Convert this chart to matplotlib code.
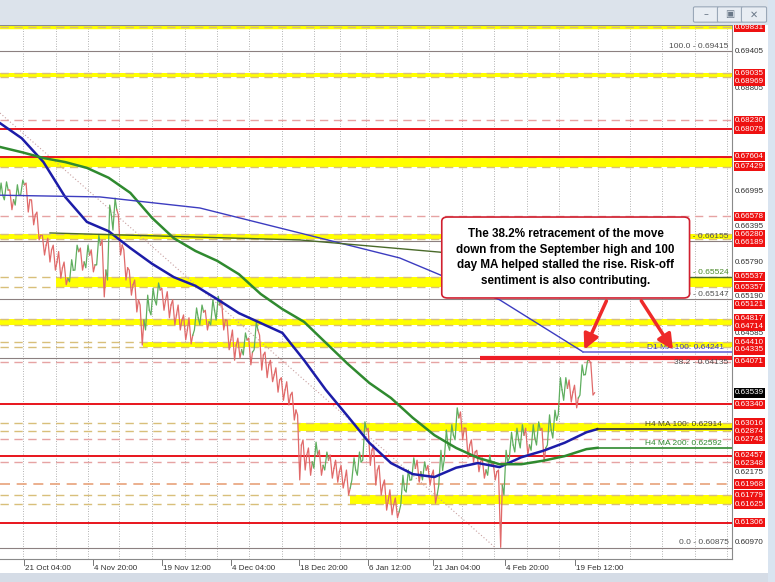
import numpy as np
import matplotlib.pyplot as plt
from matplotlib.patches import Rectangle, FancyBboxPatch
from matplotlib.transforms import blended_transform_factory

plt.rcParams['font.family'] = ['Liberation Sans', 'DejaVu Sans']

# AUDUSD 4h price, one sample every 5 bars
closes = [0.6694, 0.6703, 0.6686, 0.6694, 0.6712, 0.6686, 0.6660, 0.6625, 0.6608, 0.6600,
          0.6579, 0.6569, 0.6551, 0.6565, 0.6597, 0.6579, 0.6591, 0.6574, 0.6608, 0.6565,
          0.6660, 0.6669, 0.6608, 0.6569, 0.6540, 0.6514, 0.6479, 0.6496, 0.6514, 0.6531,
          0.6514, 0.6505, 0.6488, 0.6479, 0.6462, 0.6453, 0.6483, 0.6493, 0.6476, 0.6496,
          0.6505, 0.6479, 0.6445, 0.6436, 0.6428, 0.6445, 0.6424, 0.6462, 0.6419, 0.6402,
          0.6385, 0.6376, 0.6359, 0.6350, 0.6324, 0.6264, 0.6247, 0.6235, 0.6247, 0.6229,
          0.6238, 0.6224, 0.6218, 0.6204, 0.6190, 0.6221, 0.6235, 0.6290, 0.6255, 0.6221,
          0.6195, 0.6169, 0.6161, 0.6149, 0.6187, 0.6204, 0.6224, 0.6218, 0.6221, 0.6212,
          0.6178, 0.6221, 0.6264, 0.6281, 0.6311, 0.6293, 0.6264, 0.6252, 0.6235, 0.6221,
          0.6229, 0.6218, 0.6195, 0.6235, 0.6264, 0.6273, 0.6281, 0.6264, 0.6276, 0.6290,
          0.6259, 0.6290, 0.6307, 0.6359, 0.6362, 0.6355, 0.6345, 0.6385, 0.6410, 0.6354]
highs = [0.6715, 0.6717, 0.6703, 0.6712, 0.6720, 0.6715, 0.6686, 0.6665, 0.6625, 0.6620,
         0.6608, 0.6597, 0.6579, 0.6583, 0.6608, 0.6603, 0.6608, 0.6600, 0.6625, 0.6617,
         0.6677, 0.6689, 0.6660, 0.6600, 0.6565, 0.6548, 0.6505, 0.6522, 0.6534, 0.6543,
         0.6534, 0.6528, 0.6514, 0.6505, 0.6488, 0.6483, 0.6500, 0.6505, 0.6496, 0.6514,
         0.6520, 0.6514, 0.6479, 0.6462, 0.6448, 0.6457, 0.6448, 0.6476, 0.6453, 0.6424,
         0.6410, 0.6397, 0.6380, 0.6373, 0.6355, 0.6316, 0.6273, 0.6259, 0.6269, 0.6255,
         0.6252, 0.6247, 0.6238, 0.6229, 0.6221, 0.6242, 0.6252, 0.6304, 0.6293, 0.6264,
         0.6229, 0.6204, 0.6187, 0.6173, 0.6212, 0.6221, 0.6242, 0.6238, 0.6235, 0.6229,
         0.6221, 0.6255, 0.6290, 0.6299, 0.6328, 0.6321, 0.6293, 0.6273, 0.6255, 0.6242,
         0.6247, 0.6235, 0.6221, 0.6255, 0.6286, 0.6293, 0.6299, 0.6293, 0.6299, 0.6304,
         0.6293, 0.6316, 0.6324, 0.6380, 0.6380, 0.6376, 0.6367, 0.6402, 0.6409, 0.6405]
lows = [0.6686, 0.6686, 0.6669, 0.6677, 0.6694, 0.6665, 0.6643, 0.6617, 0.6591, 0.6579,
        0.6565, 0.6551, 0.6540, 0.6545, 0.6565, 0.6565, 0.6569, 0.6562, 0.6574, 0.6519,
        0.6548, 0.6634, 0.6591, 0.6548, 0.6522, 0.6493, 0.6436, 0.6462, 0.6488, 0.6505,
        0.6496, 0.6483, 0.6471, 0.6462, 0.6445, 0.6438, 0.6462, 0.6471, 0.6462, 0.6471,
        0.6479, 0.6462, 0.6428, 0.6410, 0.6414, 0.6419, 0.6402, 0.6428, 0.6393, 0.6380,
        0.6373, 0.6355, 0.6341, 0.6333, 0.6307, 0.6204, 0.6221, 0.6212, 0.6224, 0.6212,
        0.6221, 0.6207, 0.6200, 0.6190, 0.6178, 0.6204, 0.6212, 0.6238, 0.6229, 0.6195,
        0.6178, 0.6152, 0.6144, 0.6139, 0.6161, 0.6183, 0.6204, 0.6200, 0.6204, 0.6195,
        0.6164, 0.6195, 0.6238, 0.6255, 0.6273, 0.6273, 0.6242, 0.6235, 0.6218, 0.6207,
        0.6212, 0.6204, 0.6088, 0.6178, 0.6242, 0.6252, 0.6259, 0.6247, 0.6255, 0.6264,
        0.6235, 0.6264, 0.6276, 0.6316, 0.6341, 0.6338, 0.6328, 0.6350, 0.6385, 0.6350]
bar_step = 5

# H4 moving averages, one value every 20 bars
h4_ma100 = [0.6818, 0.6792, 0.6751, 0.6691, 0.6648, 0.6632, 0.6603, 0.6576, 0.6553, 0.6538,
            0.6515, 0.6491, 0.6474, 0.6457, 0.6410, 0.6359, 0.6314, 0.6268, 0.6233, 0.6214,
            0.6209, 0.6225, 0.6233, 0.6226, 0.6243, 0.6254, 0.6268, 0.6286]
h4_ma200 = [0.6777, 0.6768, 0.6758, 0.6751, 0.6741, 0.6724, 0.6698, 0.6655, 0.6620, 0.6598,
            0.6581, 0.6558, 0.6524, 0.6498, 0.6476, 0.6440, 0.6404, 0.6371, 0.6345, 0.6311,
            0.6281, 0.6259, 0.6242, 0.6231, 0.6231, 0.6237, 0.6245, 0.6257]
ma_step = 20
h4_ma100_now = 0.62914
h4_ma200_now = 0.62592

# daily moving averages (bar, value)
d1_ma100_bars = [0, 92, 184, 276, 368, 460, 537]
d1_ma100 = [0.6694, 0.6691, 0.6672, 0.6629, 0.6586, 0.6514, 0.64241]
d1_ma200_bars = [46, 276, 405, 552]
d1_ma200 = [0.6629, 0.6617, 0.6596, 0.65524]

# horizontal levels
red_levels = [0.68079, 0.67604, 0.63340, 0.62457, 0.61306]
dash_levels = [0.68230, 0.66578, 0.64071, 0.62743, 0.62348]
orange_levels = [0.61968]
band_tops = [0.69035, 0.67604, 0.66280, 0.65537, 0.64817, 0.64410, 0.63016, 0.61779]
band_bottoms = [0.68969, 0.67429, 0.66189, 0.65357, 0.64714, 0.64335, 0.62874, 0.61625]
band_start = [0, 0, 0, 52, 0, 132, 274, 322]
top_level = 0.69831
fib_names = ['100.0', '61.8', '50.0', '38.2', '0.0']
fib_prices = [0.69415, 0.66155, 0.65147, 0.64135, 0.60875]
fib_trend = [(0, 0.68354), (456, 0.60875)]

label_levels = [0.69831, 0.69035, 0.68969, 0.68230, 0.68079, 0.67604, 0.67429, 0.66578,
                0.66280, 0.66189, 0.65537, 0.65357, 0.65121, 0.64817, 0.64714, 0.64410,
                0.64335, 0.64071, 0.63340, 0.63016, 0.62874, 0.62743, 0.62457, 0.62348,
                0.61968, 0.61779, 0.61625, 0.61306]
last_price = 0.63539
axis_ticks = [0.69405, 0.68805, 0.66995, 0.66395, 0.65790, 0.65190, 0.64585, 0.62175, 0.60970]

date_labels = ['21 Oct 04:00', '4 Nov 20:00', '19 Nov 12:00', '4 Dec 04:00', '18 Dec 20:00',
               '6 Jan 12:00', '21 Jan 04:00', '4 Feb 20:00', '19 Feb 12:00']
date_bars = [22, 86, 149, 213, 275, 339, 399, 465, 529]
grid_bars = [21, 52, 81, 110, 140, 170, 200, 229, 260, 289, 313, 337, 366, 395, 425, 455,
             485, 515, 551, 580, 610, 640, 669]

W, H = 775, 582
fig = plt.figure(figsize=(W / 100, H / 100), dpi=100)
fig.patch.set_facecolor('white')

# window chrome
fig.add_artist(Rectangle((0, 1 - 25 / H), 1, 25 / H, transform=fig.transFigure,
                         fc='#dce3eb', ec='none'))
fig.add_artist(Rectangle((0, 0), 1, 9 / H, transform=fig.transFigure, fc='#d5dce6', ec='none'))
fig.add_artist(Rectangle((768 / W, 0), 7 / W, 1, transform=fig.transFigure, fc='#d9e4f0', ec='none'))
for bx, glyph in zip([695, 719, 743], ['\u2013', '\u25a3', '\u2715']):
    fig.add_artist(FancyBboxPatch((bx / W, 1 - 21 / H), 22 / W, 13 / H, transform=fig.transFigure,
                                  boxstyle='round,pad=0.002', fc='#e8edf3', ec='#9aa8b8', lw=0.8))
    fig.text((bx + 11) / W, 1 - 14.5 / H, glyph, ha='center', va='center', fontsize=7,
             color='#6a7888', family=['DejaVu Sans'])

ax = fig.add_axes([0, 1 - 559 / H, 732 / W, 534 / H])
ax.set_xlim(0, 674)
ax.set_ylim(0.60679, 0.69869)
ax.set_xticks([])
ax.set_yticks([])
ax.spines['left'].set_visible(False)
for s in ['right', 'top', 'bottom']:
    ax.spines[s].set_color('#8a8a8a')
    ax.spines[s].set_linewidth(0.8)

for gb in grid_bars:
    ax.axvline(gb, color='#9a9a9a', lw=0.6, ls=(0, (1, 2)), zorder=0)

# bands
for top, bot, start in zip(band_tops, band_bottoms, band_start):
    ax.fill_between([start, 674], bot, top, color='#ffff00', lw=0, zorder=1)
    for lv in (top, bot):
        ax.axhline(lv, color='#d8bf7a', lw=1, ls=(0, (6, 4)), zorder=1.5)
ax.axhline(top_level, color='#ffff00', lw=2.5, zorder=1)
ax.axhline(top_level, color='#d8bf7a', lw=1, ls=(0, (6, 4)), zorder=1.5)

for lv in dash_levels:
    ax.axhline(lv, color='#e6a3a3', lw=1, ls=(0, (6, 4)), zorder=1.5)
for lv in orange_levels:
    ax.axhline(lv, color='#e8a27a', lw=1.2, ls=(0, (6, 4)), zorder=1.5)
for lv in red_levels:
    ax.axhline(lv, color='#e8141c', lw=1.4, zorder=2)

# fibonacci
for name, fp in zip(fib_names, fib_prices):
    ax.axhline(fp, color='#8c8080', lw=0.8, zorder=1.6)
    if name == '38.2':
        ax.text(671, fp - 0.0001, f'{name} - {fp:.5f}', ha='right', va='top', fontsize=6,
                color='#505050', zorder=6)
    else:
        ax.text(671, fp + 0.0002, f'{name} - {fp:.5f}', ha='right', va='bottom', fontsize=6,
                color='#505050', zorder=2)
ax.plot([p[0] for p in fib_trend], [p[1] for p in fib_trend], color='#c8a0a0', lw=0.8,
        ls=(0, (1, 2)), zorder=1.6)

# price path
xs_c = np.arange(len(closes)) * bar_step
opens = [closes[0]] + closes[:-1]
for i in range(len(closes)):
    o, h, l, c = opens[i], highs[i], lows[i], closes[i]
    up = c >= o
    ys = [o, l, h, c] if up else [o, h, l, c]
    xx = xs_c[i] - bar_step / 2 + np.array([0, 0.3, 0.7, 1.0]) * bar_step
    ax.plot(xx, ys, color='#5fae5f' if up else '#e06a6a', lw=0.9, zorder=3)

# moving averages
xs_ma = np.arange(len(h4_ma100)) * ma_step
ax.plot(list(xs_ma) + [550], h4_ma100 + [h4_ma100_now], color='#1c1ca8', lw=1.8, zorder=4)
ax.plot([550, 674], [h4_ma100_now] * 2, color='#2a2a40', lw=1.2, zorder=4)
ax.plot(list(xs_ma) + [550], h4_ma200 + [h4_ma200_now], color='#2f8a2f', lw=1.8, zorder=4)
ax.plot([550, 674], [h4_ma200_now] * 2, color='#2f8a2f', lw=1.2, zorder=4)
ax.plot(d1_ma100_bars, d1_ma100, color='#3c3cc0', lw=1.0, zorder=4)
ax.plot([d1_ma100_bars[-1], 674], [d1_ma100[-1]] * 2, color='#6a6ad8', lw=1.2, zorder=4)
ax.plot(d1_ma200_bars, d1_ma200, color='#4a6a2a', lw=1.0, zorder=4)
ax.plot([d1_ma200_bars[-1], 674], [d1_ma200[-1]] * 2, color='#4a6a2a', lw=1.0, zorder=4)
ax.text(594, h4_ma100_now + 0.0002, f'H4 MA 100: {h4_ma100_now:.5f}', fontsize=6,
        color='#4a4a20', va='bottom', zorder=4)
ax.text(594, h4_ma200_now + 0.0002, f'H4 MA 200: {h4_ma200_now:.5f}', fontsize=6,
        color='#2f8a2f', va='bottom', zorder=4)
ax.text(596, d1_ma100[-1] + 0.0002, f'D1 MA 100: {d1_ma100[-1]:.5f}', fontsize=6,
        color='#3c3cc0', va='bottom', zorder=4)
ax.text(671, d1_ma200[-1] + 0.0002, f'- {d1_ma200[-1]:.5f}', fontsize=6,
        color='#4a8a2a', va='bottom', ha='right', zorder=4)

# 38.2 marker
ax.plot([442, 674], [fib_prices[3]] * 2, color='#ee1c25', lw=3, zorder=5, solid_capstyle='butt')

# right-hand price labels, pushed apart where they crowd
tr = blended_transform_factory(ax.transAxes, ax.transData)
entries = [(t, 'tick') for t in axis_ticks] + [(lv, 'red') for lv in label_levels] + \
          [(last_price, 'last')]
entries.sort(key=lambda e: -e[0])
gap = 7.6 * (0.69869 - 0.60679) / 534
placed = []
for price, kind in entries:
    pos = price
    if placed and placed[-1] - pos < gap:
        pos = placed[-1] - gap
    placed.append(pos)
for (price, kind), pos in zip(entries, placed):
    if kind == 'tick':
        ax.text(1.004, pos, f'{price:.5f}', transform=tr, fontsize=5.8, color='#303030',
                va='center', ha='left', zorder=6)
    else:
        fc = '#ee1111' if kind == 'red' else 'black'
        ax.text(1.004, pos, f'{price:.5f}', transform=tr, fontsize=5.8, color='white',
                va='center', ha='left', zorder=7,
                bbox=dict(boxstyle='square,pad=0.15', fc=fc, ec='none'))

# date axis
trx = blended_transform_factory(ax.transData, ax.transAxes)
for db, lab in zip(date_bars, date_labels):
    ax.plot([db, db], [0, -0.012], transform=trx, color='#606060', lw=0.6, clip_on=False)
    ax.text(db + 1, -0.012, lab, transform=trx, fontsize=5.8, color='#303030',
            ha='left', va='top')

# comment box
box = FancyBboxPatch((0.6035, 0.4888), 0.3385, 0.1516, transform=ax.transAxes,
                     boxstyle='round,pad=0,rounding_size=0.008', fc='white',
                     ec='#d02030', lw=1.2, zorder=8)
ax.add_patch(box)
ax.text(0.7727, 0.5646, 'The 38.2% retracement of the move\ndown from the September high and 100\n'
        'day MA helped stalled the rise. Risk-off\nsentiment is also contributing.',
        transform=ax.transAxes, ha='center', va='center', fontsize=8.4, fontweight='bold',
        linespacing=1.4, zorder=9)
for tail, head in [((0.830, 0.488), (537, 0.6424)), ((0.874, 0.488), (621, 0.6424))]:
    ax.annotate('', xy=head, xycoords='data', xytext=tail, textcoords='axes fraction',
                arrowprops=dict(arrowstyle='-|>,head_length=0.9,head_width=0.45',
                                color='#ee2a2a', lw=2.5), zorder=9)

fig.savefig('out.png', dpi=100)
